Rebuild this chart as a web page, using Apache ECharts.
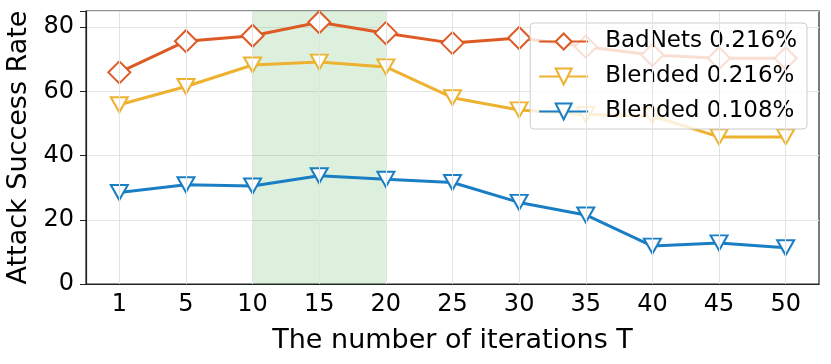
<!DOCTYPE html>
<html>
<head>
<meta charset="utf-8">
<script src="https://cdn.jsdelivr.net/npm/echarts@6/dist/echarts.min.js"></script>
<style>
  html, body { margin: 0; padding: 0; background: #fff; }
  #chart { width: 831px; height: 364px; }
</style>
</head>
<body>
<div id="chart"></div>
<script>
const iterations = ['1', '5', '10', '15', '20', '25', '30', '35', '40', '45', '50']
const badnets216 = [65.9, 75.6, 77.3, 81.5, 78.1, 75.0, 76.6, 73.9, 71.3, 70.3, 70.3]
const blended216 = [55.8, 61.5, 68.2, 69.1, 67.6, 58.0, 54.2, 52.8, 52.3, 45.8, 45.8]
const blended108 = [28.5, 30.9, 30.5, 33.7, 32.6, 31.6, 25.4, 21.5, 11.8, 12.8, 11.3]
const yTicks = [0, 20, 40, 60, 80]
const shaded = ['10', '20']

const font = 'DejaVu Sans'
const myChart = echarts.init(document.getElementById('chart'))

function lineSeries (name, data, color, symbol, rotate, size) {
  return {
    name: name,
    type: 'line',
    z: 3,
    data: data,
    symbol: symbol,
    symbolRotate: rotate,
    symbolSize: size,
    showAllSymbol: true,
    lineStyle: { color: color, width: 3 },
    itemStyle: { color: color, borderColor: color, borderWidth: 3.2 },
    emphasis: { disabled: true }
  }
}

const option = {
  animation: false,
  textStyle: { fontFamily: font },
  grid: {
    left: 86, right: 12, top: 11, bottom: 80,
    containLabel: false,
    outerBoundsMode: 'none',
    show: true, borderColor: '#222', borderWidth: 1.2
  },
  legend: {
    orient: 'vertical',
    right: 24,
    top: 23,
    itemWidth: 49,
    itemHeight: 20,
    itemGap: 12,
    padding: [7, 10, 6, 8],
    backgroundColor: 'rgba(255,255,255,0.8)',
    borderColor: '#cccccc',
    borderWidth: 1,
    borderRadius: 4,
    textStyle: { fontFamily: font, fontSize: 23, color: '#000', padding: [0, 0, 0, 12] },
    data: ['BadNets 0.216%', 'Blended 0.216%', 'Blended 0.108%']
  },
  xAxis: {
    type: 'category',
    data: iterations,
    boundaryGap: true,
    name: 'The number of iterations T',
    nameLocation: 'middle',
    nameGap: 43,
    nameTextStyle: { fontFamily: font, fontSize: 27, color: '#000' },
    axisLine: { lineStyle: { color: '#222', width: 1.2 } },
    axisTick: { alignWithLabel: true, length: 6, lineStyle: { color: '#222' } },
    axisLabel: { fontSize: 24, color: '#000', margin: 9 },
    splitLine: { show: false }
  },
  yAxis: {
    type: 'value',
    min: 0,
    max: 85,
    interval: 20,
    name: 'Attack Success Rate',
    nameLocation: 'middle',
    nameGap: 41,
    nameTextStyle: { fontFamily: font, fontSize: 27, color: '#000' },
    axisLine: { show: true, lineStyle: { color: '#222', width: 1.2 } },
    axisTick: { show: true, length: 6, lineStyle: { color: '#222' } },
    axisLabel: {
      fontSize: 24, color: '#000', margin: 12,
      formatter: function (v) { return yTicks.indexOf(v) >= 0 ? v : '' }
    },
    splitLine: { show: true, lineStyle: { color: '#e6e6e6' } }
  },
  series: [
    {
      // vertical grid lines at each category plus the shaded T range
      name: 'grid',
      type: 'line',
      z: 1,
      data: [],
      markArea: {
        silent: true,
        itemStyle: { color: 'rgba(44,160,44,0.16)' },
        data: [[{ xAxis: shaded[0] }, { xAxis: shaded[1] }]]
      },
      markLine: {
        silent: true,
        symbol: 'none',
        label: { show: false },
        lineStyle: { color: '#e3e3e3', type: 'solid', width: 1 },
        data: iterations.map(function (c) { return { xAxis: c } })
      }
    },
    lineSeries('BadNets 0.216%', badnets216, '#dd5a24', 'emptyDiamond', 0, 22),
    lineSeries('Blended 0.216%', blended216, '#edb230', 'emptyTriangle', 180, [17, 15]),
    lineSeries('Blended 0.108%', blended108, '#1a7ec4', 'emptyTriangle', 180, [17, 15])
  ]
}

myChart.setOption(option)
</script>
</body>
</html>
